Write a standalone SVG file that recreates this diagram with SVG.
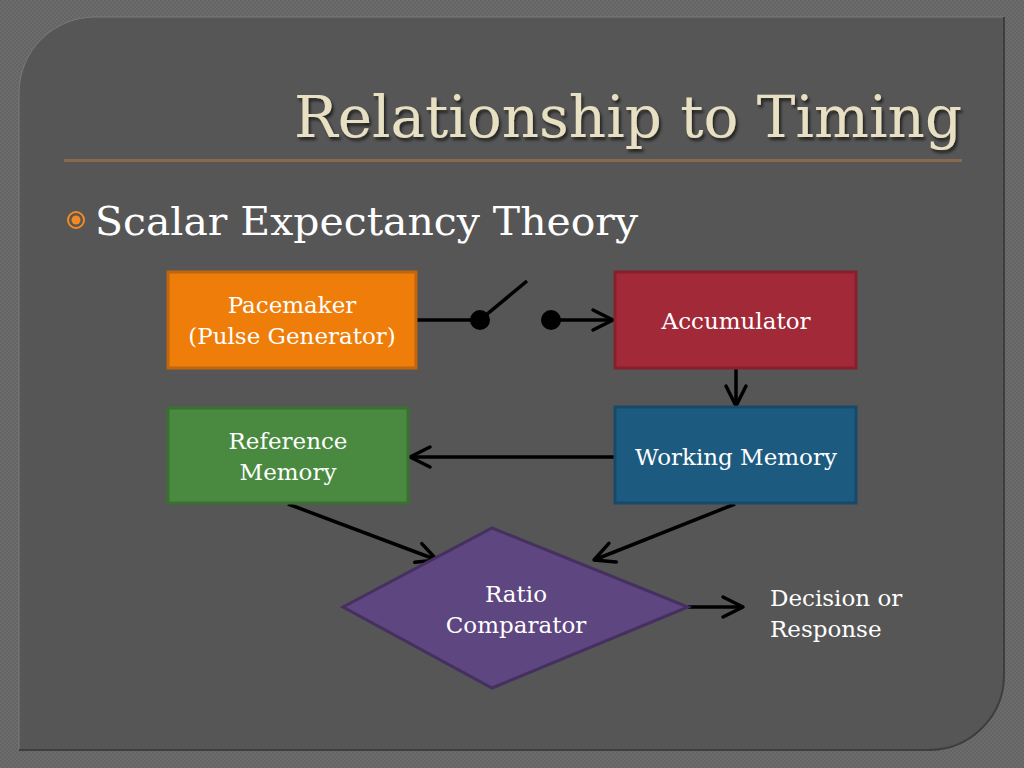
<svg xmlns="http://www.w3.org/2000/svg" width="1024" height="768" viewBox="0 0 1024 768">
<defs>
<pattern id="tex" width="4" height="4" patternUnits="userSpaceOnUse">
<rect width="4" height="4" fill="#6c6c6c"/>
<rect width="2" height="2" fill="#646464"/>
<rect x="2" y="2" width="2" height="2" fill="#646464"/>
</pattern>
<filter id="sh" x="-5%" y="-20%" width="110%" height="140%">
<feDropShadow dx="2" dy="3" stdDeviation="1.5" flood-color="#000" flood-opacity="0.6"/>
</filter>
<marker id="arrL" viewBox="0 0 30 26" refX="27" refY="13" markerWidth="30" markerHeight="26" markerUnits="userSpaceOnUse" orient="auto">
<path d="M7,3 L27,13 L7,23" fill="none" stroke="#000" stroke-width="3.5" stroke-linecap="round" stroke-linejoin="round"/>
</marker>
</defs>
<style>
.lbl{font-family:"DejaVu Serif","Liberation Serif",serif;fill:#ffffff;text-anchor:middle;font-size:23px}
.box{stroke-width:3}
.con{stroke:#000;stroke-width:3.5;fill:none}
</style>
<rect width="1024" height="768" fill="url(#tex)"/>
<path d="M95,17 H1004 V675 A75,75 0 0 1 929,750 H19 V93 A76,76 0 0 1 95,17 Z" fill="#565656" stroke="#7a7a7a" stroke-width="1"/>
<path d="M1004,17 V675 A75,75 0 0 1 929,750 H19" fill="none" stroke="#3e3e3e" stroke-width="2"/>
<text x="962" y="137" text-anchor="end" font-family="DejaVu Serif, Liberation Serif, serif" font-size="58" fill="#e8e0c2" filter="url(#sh)" textLength="668" lengthAdjust="spacingAndGlyphs">Relationship to Timing</text>
<rect x="64" y="159" width="898" height="3" fill="#8a6a4c"/>
<circle cx="76" cy="220" r="8" fill="none" stroke="#f08a24" stroke-width="2"/>
<circle cx="76" cy="220" r="4.5" fill="#f08a24"/>
<text x="95" y="235" font-family="DejaVu Serif, Liberation Serif, serif" font-size="39" fill="#ffffff" textLength="543" lengthAdjust="spacingAndGlyphs">Scalar Expectancy Theory</text>
<g id="connectors">
<line class="con" x1="416" y1="320" x2="480" y2="320"/>
<line class="con" x1="480" y1="320" x2="527" y2="281"/>
<circle cx="480" cy="320" r="10" fill="#000"/>
<circle cx="551" cy="320" r="10" fill="#000"/>
<line class="con" x1="551" y1="320" x2="613" y2="320" marker-end="url(#arrL)"/>
<line class="con" x1="736" y1="369" x2="736" y2="406" marker-end="url(#arrL)"/>
<line class="con" x1="614" y1="457" x2="410" y2="457" marker-end="url(#arrL)"/>
<line class="con" x1="288" y1="504" x2="437" y2="560" marker-end="url(#arrL)"/>
<line class="con" x1="735" y1="504" x2="594" y2="560" marker-end="url(#arrL)"/>
<line class="con" x1="688" y1="607" x2="743" y2="607" marker-end="url(#arrL)"/>
</g>
<g id="pacemaker">
<rect class="box" x="168" y="272" width="248" height="96" fill="#ef7d0a" stroke="#c0650e"/>
<text class="lbl" x="292" y="313">Pacemaker</text>
<text class="lbl" x="292" y="344">(Pulse Generator)</text>
</g>
<g id="accumulator">
<rect class="box" x="615" y="272" width="241" height="96" fill="#a22938" stroke="#86202d"/>
<text class="lbl" x="736" y="329">Accumulator</text>
</g>
<g id="working-memory">
<rect class="box" x="615" y="407" width="241" height="96" fill="#1c5a80" stroke="#174a6a"/>
<text class="lbl" x="736" y="465">Working Memory</text>
</g>
<g id="reference-memory">
<rect class="box" x="168" y="408" width="240" height="95" fill="#4a8a40" stroke="#3a7030"/>
<text class="lbl" x="288" y="449">Reference</text>
<text class="lbl" x="288" y="480">Memory</text>
</g>
<g id="ratio-comparator">
<path d="M343,607 L492,528 L688,607 L492,688 Z" fill="#5e4680" stroke="#45305f" stroke-width="3"/>
<text class="lbl" x="516" y="602">Ratio</text>
<text class="lbl" x="516" y="633">Comparator</text>
</g>
<g id="decision">
<text class="lbl" x="770" y="606" style="text-anchor:start">Decision or</text>
<text class="lbl" x="770" y="637" style="text-anchor:start">Response</text>
</g>
</svg>
